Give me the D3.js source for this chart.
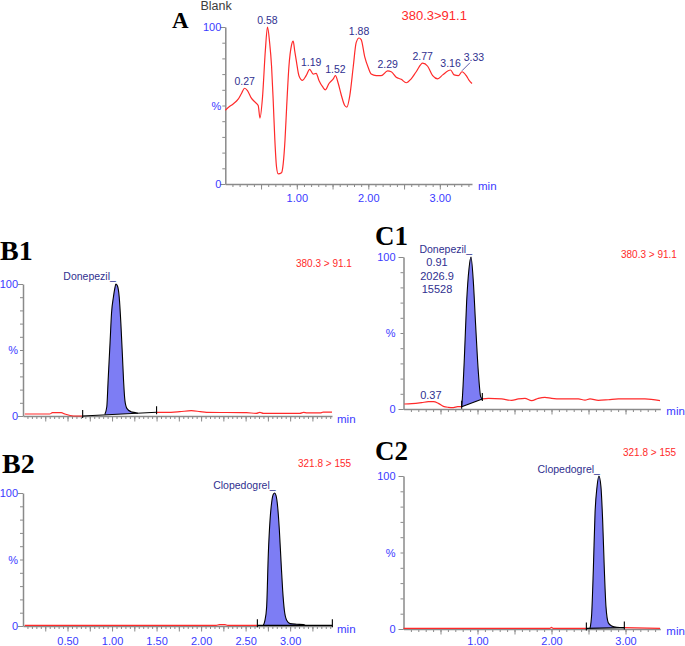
<!DOCTYPE html>
<html><head><meta charset="utf-8">
<script src="https://cdn.jsdelivr.net/npm/d3@7"></script>
<style>body{margin:0;background:#fff} svg{display:block;font-family:"Liberation Sans",Arial,sans-serif}</style>
</head><body>
<svg id="c" width="685" height="646"></svg>
<script>
// ---------------- DATA ----------------
// Panel A (blank, 380.3>91.1)
const aTime = [0,0.05,0.11,0.18,0.23,0.27,0.31,0.36,0.42,0.46,0.485,0.52,0.56,0.59,0.62,0.647,0.67,0.693,0.716,0.74,0.786,0.81,0.835,0.858,0.89,0.926,0.95,0.97,0.995,1.03,1.08,1.13,1.18,1.23,1.27,1.31,1.36,1.40,1.45,1.51,1.54,1.58,1.62,1.67,1.70,1.74,1.79,1.83,1.87,1.90,1.95,2.00,2.04,2.11,2.18,2.27,2.32,2.39,2.46,2.53,2.60,2.67,2.76,2.83,2.90,2.97,3.04,3.15,3.20,3.26,3.31,3.37,3.41,3.45];
const aPct  = [47,49,51,54,58,61,59.5,55,52,50,42,55,85,100,90,75,53,28,11,6.4,7.2,13,28,49,75,88.5,91,85,78,69,66,69,73,70,70.5,66,62,60,64,67,69,64,57,50,49,56,75,90,93,92,81,74,70,69,69,72,71.5,68,66.7,64.5,67,71.5,77,75,69,67,69.5,72.6,69.5,69,71.5,69,66,64];
const aPeakLabel = ["0.27","0.58","1.19","1.52","1.88","2.29","2.77","3.16","3.33"];
const aPeakTime  = [0.27,0.59,1.20,1.54,1.87,2.27,2.76,3.15,3.31];
const aPeakPct   = [61,100,73,69,93,72,77,72.6,71.5];
const aXTicks = [1,2,3];

// Panel B1 (Donepezil, 380.3 > 91.1)
const b1Time = [0.02,0.30,0.33,0.43,0.47,0.565,0.67,1.50,1.61,1.76,1.89,1.99,2.06,2.51,2.62,2.66,2.70,3.11,3.15,3.19,3.34,3.37,3.47];
const b1Pct  = [1.5,1.5,2.5,2.5,1.5,0,0,2.8,2.8,3.3,4,3.3,2.8,2.5,2,2.8,2,2,2.8,2.3,2.3,3,3];
const b1PeakTime = [0.919,0.941,0.956,0.979,0.994,1.016,1.031,1.043,1.061,1.080,1.099,1.117,1.129,1.144,1.166,1.211,1.268,1.29];
const b1PeakPct  = [1.2,7,27,57.6,77.8,90.4,96.7,100,98.5,90.4,70.2,45,27.3,12,5.8,3.3,2.5,2.1];
const b1IntegTime = [0.67,1.50];
const b1IntegPct  = [0,2.8];

// Panel B2 (Clopedogrel, 321.8 > 155)
const b2Time = [0.02,2.17,2.205,2.268,2.30,2.632,3.474];
const b2Pct  = [0.5,0.5,1.1,1.1,0.5,0.5,0.5];
const b2PeakTime = [2.699,2.717,2.736,2.755,2.774,2.793,2.811,2.826,2.841,2.860,2.879,2.897,2.916,2.935,2.961,2.999,3.074,3.148,3.167];
const b2PeakPct  = [0.5,4.3,14.3,54.4,79.4,93.2,99,100,98.2,89.5,72,49.4,26.8,11.8,4.3,1.8,1.3,1,0.5];
const b2IntegTime = [2.632,3.474];
const b2IntegPct  = [0.5,0.5];
const bXTicks = [0.5,1,1.5,2,2.5,3];

// Panel C1 (Donepezil, 380.3 > 91.1)
const c1Time = [0.011,0.111,0.246,0.336,0.404,0.471,0.539,0.606,0.674,0.732,0.786,1.065,1.146,1.326,1.461,1.551,1.641,1.731,1.821,1.911,2.002,2.137,2.363,2.453,2.52,2.633,2.768,2.904,3.263,3.466];
const c1Pct  = [3.3,3.5,4.2,4.8,4.8,3.7,1.75,1.1,0.9,1.5,1.5,6.6,7,6.6,5.7,6.6,7,5.5,7,7.7,7,6.6,6.6,5.9,6.6,5.7,6.1,6.6,6.6,5.5];
const c1PeakTime = [0.786,0.795,0.822,0.853,0.885,0.912,0.944,0.975,1.011,1.043,1.065];
const c1PeakPct  = [1.5,7,33,70.5,92.3,100,83.6,55,24.5,8.1,6.6];
const c1IntegTime = [0.786,1.065];
const c1IntegPct  = [1.5,6.6];
const c1PeakInfo = ["0.91","2026.9","15528"];
const c1SmallLabel = "0.37", c1SmallTime = 0.37, c1SmallPct = 4.8;

// Panel C2 (Clopedogrel, 321.8 > 155)
const c2Time = [0,1.977,2.0,2.022,2.471,2.984,3.466];
const c2Pct  = [0.4,0.4,1.1,0.4,0.4,0.9,0.4];
const c2PeakTime = [2.52,2.543,2.565,2.588,2.615,2.641,2.668,2.691,2.714,2.736,2.768,2.813,2.881,2.984];
const c2PeakPct  = [0.4,10,38.6,75.6,93,100,93,71,38.6,14.6,4,2,1.1,0.9];
const c2IntegTime = [2.471,2.984];
const c2IntegPct  = [0.4,0.9];
const cXTicks = [1,2,3];

// ---------------- DRAW ----------------
const svg = d3.select("#c");
const AXIS="#8a8a8a", BLUE="#3a3aff", NAVY="#30308f", RED="#ff2a2a", FILL="#7d7df4";
const zip = (t,p)=>t.map((d,i)=>[d,p[i]]);

function styleAxis(g){
  g.selectAll("path,line").attr("stroke",AXIS);
  g.select(".domain").attr("stroke-width",1.5);
}

function frame(x, y, o){
  const x0 = x.range()[0], x1 = x.range()[1];
  // y axis: minor ticks + domain
  svg.append("g").attr("transform",`translate(${x0},0)`)
    .call(d3.axisLeft(y).tickValues(d3.range(0,101,10)).tickSize(3).tickFormat("").tickSizeOuter(0))
    .call(styleAxis);
  svg.append("g").attr("transform",`translate(${x0},0)`)
    .call(d3.axisLeft(y).tickValues([0,100]).tickSize(5).tickFormat("").tickSizeOuter(0))
    .call(g=>g.select(".domain").remove()).call(styleAxis);
  // y labels
  svg.append("g").attr("transform",`translate(${x0},0)`)
    .call(d3.axisLeft(y).tickValues([0,50,100]).tickSize(0).tickPadding(o.yPad).tickFormat(d=>d===50?"%":d))
    .call(g=>{g.select(".domain").remove();
      g.selectAll("text").attr("fill",BLUE).attr("font-size",o.fs).attr("font-family","Liberation Sans, Arial, sans-serif");});
  // x axis
  const [d0,d1] = x.domain();
  const minor = d3.range(0, d1+1e-9, o.minor).map(v=>+v.toFixed(3)).filter(v=>v>0);
  svg.append("g").attr("transform",`translate(0,${y(0)})`)
    .call(d3.axisBottom(x).tickValues(minor).tickSize(3).tickFormat("").tickSizeOuter(0))
    .call(styleAxis);
  const major = d3.range(o.major, d1, o.major).map(v=>+v.toFixed(3));
  svg.append("g").attr("transform",`translate(0,${y(0)})`)
    .call(d3.axisBottom(x).tickValues(major).tickSize(5.5).tickFormat(""))
    .call(g=>g.select(".domain").remove()).call(styleAxis);
  if(o.labels){
    svg.append("g").attr("transform",`translate(0,${y(0)})`)
      .call(d3.axisBottom(x).tickValues(o.labels).tickSize(0).tickPadding(o.xPad).tickFormat(d3.format(".2f")))
      .call(g=>{g.select(".domain").remove();
        g.selectAll("text").attr("fill",BLUE).attr("font-size",o.fs).attr("font-family","Liberation Sans, Arial, sans-serif");});
  }
  svg.append("text").attr("x",x1+o.minDx).attr("y",y(0)+o.minDy).text("min")
    .attr("fill",BLUE).attr("font-size",o.fs+0.5);
}

function trace(x,y,pts,integ){
  const line = d3.line().x(d=>x(d[0])).y(d=>y(d[1])).curve(d3.curveMonotoneX);
  let segs = [pts];
  if(integ){ segs = [pts.filter(d=>d[0]<=integ[0][0]), pts.filter(d=>d[0]>=integ[1][0])]; }
  segs.forEach(s=>{ if(s.length>1) svg.append("path").attr("d",line(s)).attr("fill","none")
      .attr("stroke",RED).attr("stroke-width",1.2); });
}

function peak(x,y,pts,integ){
  const [[ta,pa],[tb,pb]] = integ;
  const base = t=>pa+(pb-pa)*(t-ta)/(tb-ta);
  const area = d3.area().x(d=>x(d[0])).y0(d=>y(base(d[0]))).y1(d=>y(Math.max(d[1],base(d[0])))).curve(d3.curveMonotoneX);
  svg.append("path").attr("d",area(pts)).attr("fill",FILL).attr("stroke","none");
  const line = d3.line().x(d=>x(d[0])).y(d=>y(d[1])).curve(d3.curveMonotoneX);
  svg.append("path").attr("d",line(pts)).attr("fill","none").attr("stroke","#000").attr("stroke-width",1.1);
  svg.append("line").attr("x1",x(ta)).attr("y1",y(pa)).attr("x2",x(tb)).attr("y2",y(pb))
    .attr("stroke","#000").attr("stroke-width",1.1);
  integ.forEach(([t,p])=>svg.append("line").attr("x1",x(t)).attr("x2",x(t))
    .attr("y1",y(p)-6).attr("y2",y(p)+2).attr("stroke","#000").attr("stroke-width",1.1));
}

function txt(x,y,s,o={}){
  return svg.append("text").attr("x",x).attr("y",y).text(s)
    .attr("fill",o.fill||NAVY).attr("font-size",o.fs||10.5)
    .attr("text-anchor",o.anchor||"start")
    .attr("font-family",o.ff||"Liberation Sans, Arial, sans-serif")
    .attr("font-weight",o.fw||"normal");
}
const SERIF = "Liberation Serif, Times New Roman, serif";

// ---- Panel A ----
{
  const x = d3.scaleLinear().domain([0,3.45]).range([225.3,472]);
  const y = d3.scaleLinear().domain([0,100]).range([184,27]);
  frame(x,y,{fs:11,yPad:4,minor:0.1,major:0.5,labels:aXTicks,xPad:10,minDx:6,minDy:6});
  trace(x,y,zip(aTime,aPct));
  aPeakLabel.forEach((s,i)=>{
    const px = x(aPeakTime[i]), py = y(aPeakPct[i]);
    if(i===aPeakLabel.length-1){
      svg.append("line").attr("x1",px).attr("y1",py-1).attr("x2",px+8).attr("y2",py-9)
        .attr("stroke",NAVY).attr("stroke-width",0.8);
      txt(px+12,py-11,s,{anchor:"middle"});
    } else txt(px,py-3,s,{anchor:"middle"});
  });
  txt(200.5,10,"Blank",{fill:"#3c3c3c",fs:12.5});
  txt(401.5,20,"380.3>91.1",{fill:RED,fs:13});
  txt(172,28,"A",{fill:"#000",fs:23,ff:SERIF,fw:"bold"});
}

// ---- Panel B1 ----
const xB = d3.scaleLinear().domain([0,3.47]).range([23,332]);
{
  const y = d3.scaleLinear().domain([0,100]).range([416,284]);
  const integ = zip(b1IntegTime,b1IntegPct);
  frame(xB,y,{fs:11,yPad:5,minor:0.05,major:0.25,labels:null,minDx:5,minDy:7});
  trace(xB,y,zip(b1Time,b1Pct),integ);
  peak(xB,y,zip(b1PeakTime,b1PeakPct),integ);
  txt(xB(1.043),y(100)-4,"Donepezil_",{anchor:"end"});
  txt(296,267,"380.3 > 91.1",{fill:RED,fs:10});
  txt(0,260,"B1",{fill:"#000",fs:28,ff:SERIF,fw:"bold"});
}
// ---- Panel B2 ----
{
  const y = d3.scaleLinear().domain([0,100]).range([626,493]);
  const integ = zip(b2IntegTime,b2IntegPct);
  frame(xB,y,{fs:11,yPad:5,minor:0.05,major:0.25,labels:bXTicks,xPad:11,minDx:5,minDy:7});
  trace(xB,y,zip(b2Time,b2Pct),integ);
  peak(xB,y,zip(b2PeakTime,b2PeakPct),integ);
  txt(xB(2.826)+1,y(100)-4,"Clopedogrel_",{anchor:"end"});
  txt(298,467,"321.8 > 155",{fill:RED,fs:10});
  txt(2,473,"B2",{fill:"#000",fs:28,ff:SERIF,fw:"bold"});
}

// ---- Panel C1 ----
const xC = d3.scaleLinear().domain([0,3.47]).range([403.5,660.3]);
{
  const y = d3.scaleLinear().domain([0,100]).range([409,257]);
  const integ = zip(c1IntegTime,c1IntegPct);
  frame(xC,y,{fs:11,yPad:8,minor:0.1,major:0.5,labels:null,minDx:6,minDy:6});
  trace(xC,y,zip(c1Time,c1Pct),integ);
  peak(xC,y,zip(c1PeakTime,c1PeakPct),integ);
  const px = xC(0.912);
  txt(px+1,y(100)-4,"Donepezil_",{anchor:"end"});
  c1PeakInfo.forEach((s,i)=>txt(px-34,266+i*13.5,s,{anchor:"middle",fs:11}));
  txt(xC(c1SmallTime),y(c1SmallPct)-3,c1SmallLabel,{anchor:"middle",fs:11});
  txt(621,258,"380.3 > 91.1",{fill:RED,fs:10});
  txt(375,245,"C1",{fill:"#000",fs:27,ff:SERIF,fw:"bold"});
}
// ---- Panel C2 ----
{
  const y = d3.scaleLinear().domain([0,100]).range([629,476]);
  const integ = zip(c2IntegTime,c2IntegPct);
  frame(xC,y,{fs:11,yPad:8,minor:0.1,major:0.5,labels:cXTicks,xPad:8,minDx:6,minDy:6});
  trace(xC,y,zip(c2Time,c2Pct),integ);
  peak(xC,y,zip(c2PeakTime,c2PeakPct),integ);
  txt(xC(2.641)+1,y(100)-3,"Clopedogrel_",{anchor:"end"});
  txt(623,456,"321.8 > 155",{fill:RED,fs:10});
  txt(375,460,"C2",{fill:"#000",fs:27,ff:SERIF,fw:"bold"});
}
</script>
</body></html>
